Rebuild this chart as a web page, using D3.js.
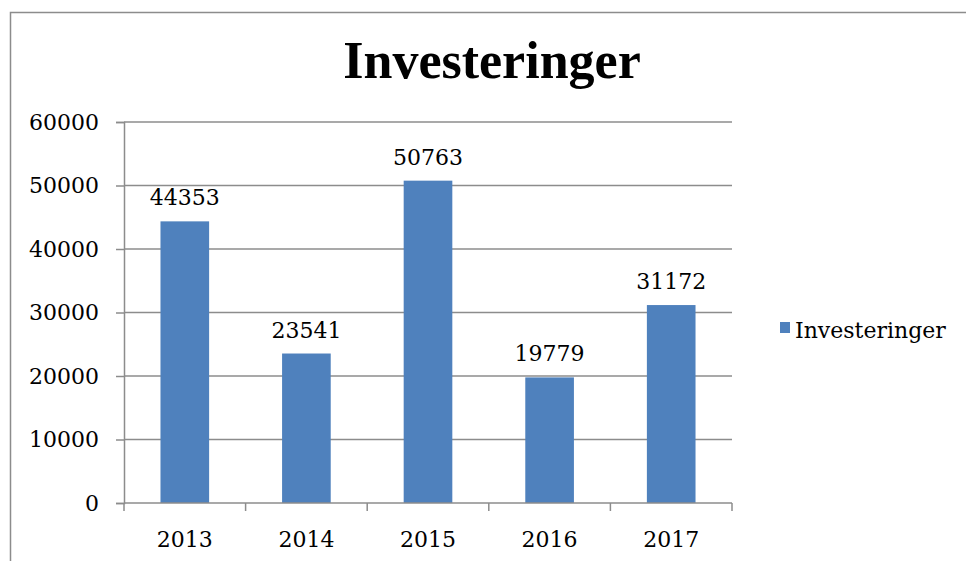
<!DOCTYPE html>
<html>
<head>
<meta charset="utf-8">
<script src="https://cdn.jsdelivr.net/npm/d3@7"></script>
<style>
  body { margin: 0; background: #fff; }
  text { font-family: "DejaVu Serif", serif; fill: #000; }
</style>
</head>
<body>
<div id="chart"></div>
<script>
// chart data
var years = ["2013", "2014", "2015", "2016", "2017"];
var investeringer = [44353, 23541, 50763, 19779, 31172];
var yTicks = [0, 10000, 20000, 30000, 40000, 50000, 60000];
var seriesName = "Investeringer";

var svgWidth = 966;
var svgHeight = 561;
var margin = { top: 122, right: 234, bottom: 58, left: 124 };
var width = svgWidth - margin.left - margin.right;
var height = svgHeight - margin.top - margin.bottom;

var svg = d3.select("#chart")
    .append("svg")
    .attr("width", svgWidth)
    .attr("height", svgHeight);

// outer frame
svg.append("rect")
    .attr("x", 10.5)
    .attr("y", 12.5)
    .attr("width", 980)
    .attr("height", 600)
    .attr("fill", "none")
    .attr("stroke", "#8c8c8c")
    .attr("stroke-width", 1.5);

svg.append("text")
    .attr("x", 492)
    .attr("y", 78)
    .attr("text-anchor", "middle")
    .style("font-family", "'Liberation Serif', serif")
    .style("font-weight", "bold")
    .style("font-size", "52px")
    .text("Investeringer");

var chartGroup = svg.append("g")
    .attr("transform", `translate(${margin.left}, ${margin.top})`);

var xScale = d3.scaleBand()
    .domain(years)
    .range([0, width])
    .paddingInner(0.6)
    .paddingOuter(0.3);

var yScale = d3.scaleLinear()
    .domain([0, 60000])
    .range([height, 0]);

// gridlines
chartGroup.append("g").selectAll("line")
    .data(yTicks.filter(d => d > 0))
    .enter()
    .append("line")
    .attr("x1", 0)
    .attr("x2", width)
    .attr("y1", d => yScale(d))
    .attr("y2", d => yScale(d))
    .attr("stroke", "#8c8c8c")
    .attr("stroke-width", 1.5);

// y axis
var leftAxis = d3.axisLeft(yScale)
    .tickValues(yTicks)
    .tickFormat(d3.format("d"))
    .tickSize(8)
    .tickPadding(17);
var yAxis = chartGroup.append("g").call(leftAxis);
yAxis.select(".domain").attr("stroke", "#8c8c8c").attr("stroke-width", 1.5);
yAxis.selectAll(".tick line").attr("stroke", "#8c8c8c").attr("stroke-width", 1.5);
yAxis.selectAll(".tick text")
    .style("font-family", "'DejaVu Serif', serif")
    .style("font-size", "22px");

// bars
chartGroup.selectAll("rect.bar")
    .data(investeringer)
    .enter()
    .append("rect")
    .attr("class", "bar")
    .attr("x", (d, i) => xScale(years[i]))
    .attr("y", d => yScale(d))
    .attr("width", xScale.bandwidth())
    .attr("height", d => height - yScale(d))
    .attr("fill", "#4f81bd");

// x axis with ticks between categories
var xAxisG = chartGroup.append("g").attr("transform", `translate(0, ${height})`);
xAxisG.append("line")
    .attr("x1", 0).attr("x2", width)
    .attr("stroke", "#8c8c8c").attr("stroke-width", 1.5);
xAxisG.selectAll("line.tk")
    .data(d3.range(years.length + 1))
    .enter()
    .append("line")
    .attr("class", "tk")
    .attr("x1", i => i * width / years.length)
    .attr("x2", i => i * width / years.length)
    .attr("y1", 0)
    .attr("y2", 8)
    .attr("stroke", "#8c8c8c")
    .attr("stroke-width", 1.5);
xAxisG.selectAll("text")
    .data(years)
    .enter()
    .append("text")
    .attr("x", d => xScale(d) + xScale.bandwidth() / 2)
    .attr("y", 44)
    .attr("text-anchor", "middle")
    .style("font-size", "22px")
    .text(d => d);

// value labels
chartGroup.selectAll("text.val")
    .data(investeringer)
    .enter()
    .append("text")
    .attr("class", "val")
    .attr("x", (d, i) => xScale(years[i]) + xScale.bandwidth() / 2)
    .attr("y", d => yScale(d) - 16)
    .attr("text-anchor", "middle")
    .style("font-size", "22px")
    .text(d => d);

// legend
var legend = svg.append("g").attr("transform", "translate(780, 322)");
legend.append("rect")
    .attr("width", 10)
    .attr("height", 11)
    .attr("fill", "#4f81bd");
legend.append("text")
    .attr("x", 15)
    .attr("y", 16)
    .style("font-size", "22px")
    .text(seriesName);
</script>
</body>
</html>
